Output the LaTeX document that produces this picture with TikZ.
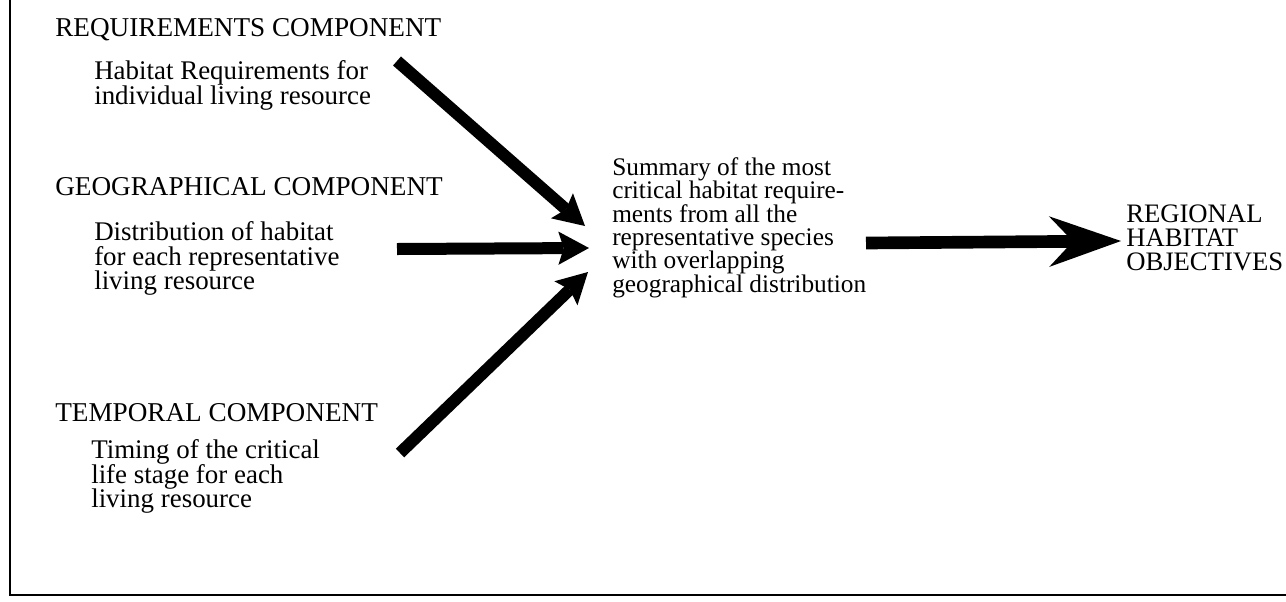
\documentclass[tikz,border=0pt]{standalone}
\usepackage{fontspec}
\setmainfont{Liberation Serif}
\usetikzlibrary{arrows.meta}

\newcommand{\tightlines}{\lineskiplimit=-20pt\relax}

\tikzset{
  headtext/.style={anchor=north west, inner sep=0pt, font=\fontsize{20.4}{18}\selectfont},
  bodytext/.style={anchor=north west, inner sep=0pt, align=left, font=\fontsize{20.2}{18.6}\selectfont\tightlines},
  sumtext/.style={anchor=north west, inner sep=0pt, align=left, font=\fontsize{19}{17.6}\selectfont\tightlines},
  goaltext/.style={anchor=north west, inner sep=0pt, align=left, font=\fontsize{20}{17.8}\selectfont\tightlines},
  inarrow/.style={line width=9pt, -{Stealth[length=23pt, width=25pt, inset=4pt, line width=0pt]}},
  outarrow/.style={line width=9.5pt, -{Stealth[length=54pt, width=38pt, inset=18pt, line width=0pt]}}
}

\begin{document}
\begin{tikzpicture}[x=0.75pt,y=0.75pt,yscale=-1,xscale=1]
        \useasboundingbox (0,0) rectangle (1286,601);

        %Straight Lines: frame
        \draw [line width=1.4pt]  (10,0) -- (10,595) -- (1286,595) ;

        %Text Node: requirements
        \node [headtext] (reqhead) at (55,18) {REQUIREMENTS COMPONENT};
        \node [bodytext] (reqbody) at (94,60) {Habitat Requirements for\\individual living resource};
        %Text Node: geographical
        \node [headtext] (geohead) at (55,177) {GEOGRAPHICAL COMPONENT};
        \node [bodytext] (geobody) at (94,221) {Distribution of habitat\\for each representative\\living resource};
        %Text Node: temporal
        \node [headtext] (temphead) at (55,403) {TEMPORAL COMPONENT};
        \node [bodytext] (tempbody) at (91,439) {Timing of the critical\\life stage for each\\living resource};
        %Text Node: summary
        \node [sumtext] (summary) at (612,157) {Summary of the most\\critical habitat require-\\ments from all the\\representative species\\with overlapping\\geographical distribution};
        %Text Node: objectives
        \node [goaltext] (objectives) at (1126,205) {REGIONAL\\HABITAT\\OBJECTIVES};

        %Arrow ends
        \coordinate (reqtail) at (397,61);
        \coordinate (reqtip) at (585,226);
        \coordinate (geotail) at (397,249);
        \coordinate (geotip) at (589,248);
        \coordinate (temptail) at (400,453);
        \coordinate (temptip) at (588,272);
        \coordinate (sumtail) at (866,243);
        \coordinate (objtip) at (1121,241);

        %Straight Lines: arrows into summary
        \draw [inarrow]  (reqtail) -- (reqtip) ;
        \draw [inarrow]  (geotail) -- (geotip) ;
        \draw [inarrow]  (temptail) -- (temptip) ;
        %Straight Lines: arrow to objectives
        \draw [outarrow]  (sumtail) -- (objtip) ;
    \end{tikzpicture}
\end{document}
